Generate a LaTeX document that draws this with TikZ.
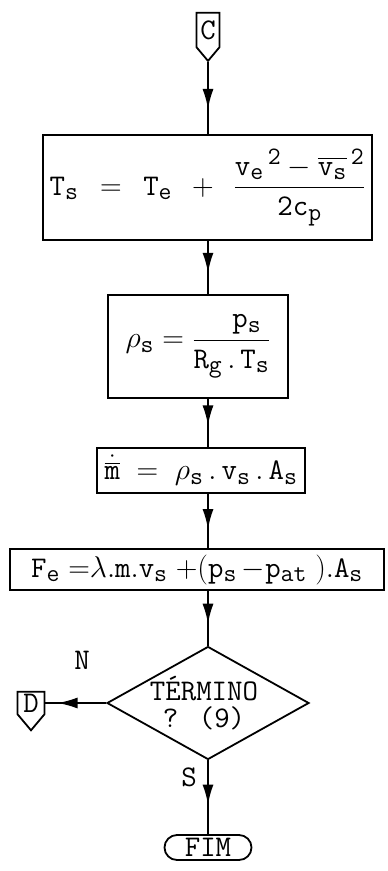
\RequirePackage{fix-cm}
\documentclass[tikz,border=0pt]{standalone}
\usepackage{amsmath}
\usetikzlibrary{shapes.geometric,shapes.misc,shapes.symbols,arrows.meta,decorations.markings,calc}

\DeclareMathSizes{30}{30}{25}{20}
\newcommand{\ttm}[1]{\mathtt{#1}}
\newcommand{\tdot}{\,.\,}

\tikzset{
  every node/.style={font=\fontsize{30}{27}\selectfont\ttfamily},
  procbox/.style={draw, line width=1.8pt, inner sep=0pt},
  decbox/.style={diamond, draw, line width=1.8pt, inner sep=0pt},
  termbox/.style={rounded rectangle, draw, line width=1.8pt, inner sep=0pt},
  pagebox/.style={signal, signal to=south, signal pointer angle=80, draw, line width=1.8pt, inner sep=2pt},
  flow/.style={line width=1.8pt, postaction={decorate},
    decoration={markings, mark=at position #1 with {\arrow{Latex[length=20pt,width=11pt]}}}},
  flow/.default=0.6
}

\begin{document}
\begin{tikzpicture}[x=1pt,y=-1pt]
\useasboundingbox (0,0) rectangle (388,871);

% connector and process boxes
\node[pagebox, minimum width=23pt, minimum height=46pt] (c) at (208,30) {C};
\node[procbox, minimum width=329pt, minimum height=105pt] (b1) at (207.5,187.5)
  {$\ttm{T_s}\;\,=\;\,\ttm{T_e}\;\,+\;\,\dfrac{\ttm{v_e}^{\,\ttm{2}} - \overline{\ttm{v_s}}^{\,\ttm{2}}}{\ttm{2c_p}}$};
\node[procbox, minimum width=180pt, minimum height=103pt] (b2) at (198,346.5)
  {$\rho_{\ttm{s}} = \dfrac{\ \ \ttm{p_s}}{\ttm{R_g}\tdot\ttm{T_s}}$};
\node[procbox, minimum width=208pt, minimum height=45pt] (b3) at (201,470.5)
  {$\dot{\overline{\ttm{m}}}\;=\;\rho_{\ttm{s}}\tdot\ttm{v_s}\tdot\ttm{A_s}$};
\node[procbox, minimum width=374pt, minimum height=41pt] (b4) at (197,569.5)
  {$\ttm{F_e}\;{=}\lambda.\ttm{m}.\ttm{v_s}\;{+}(\ttm{p_s}\,{-}\ttm{p_{at}}\;).\ttm{A_s}$};

% decision
\node[decbox, minimum width=202pt, minimum height=113pt] (q) at (208,703) {};
\node[align=center] (qt) at (204,703) {T\'ERMINO\\? (9)};
\node[pagebox, minimum width=27pt, minimum height=34pt] (d) at (31,703) {D};
\node[termbox, minimum width=87pt, minimum height=25pt] (fim) at (208,847.5) {FIM};
\node (n) at (82,660) {N};
\node (s) at (189,777) {S};

% flow lines
\draw[flow=0.65] (c.south) -- (c.south |- b1.north);
\draw[flow] (b1.south -| c.south) -- (b2.north -| c.south);
\draw[flow=0.55] (b2.south -| c.south) -- (b3.north -| c.south);
\draw[flow=0.65] (b3.south -| c.south) -- (b4.north -| c.south);
\draw[flow] (b4.south -| c.south) -- (q.north);
\draw[flow=0.8] (q.west) -- (d.east);
\draw[flow] (q.south) -- (fim.north);
\end{tikzpicture}
\end{document}
